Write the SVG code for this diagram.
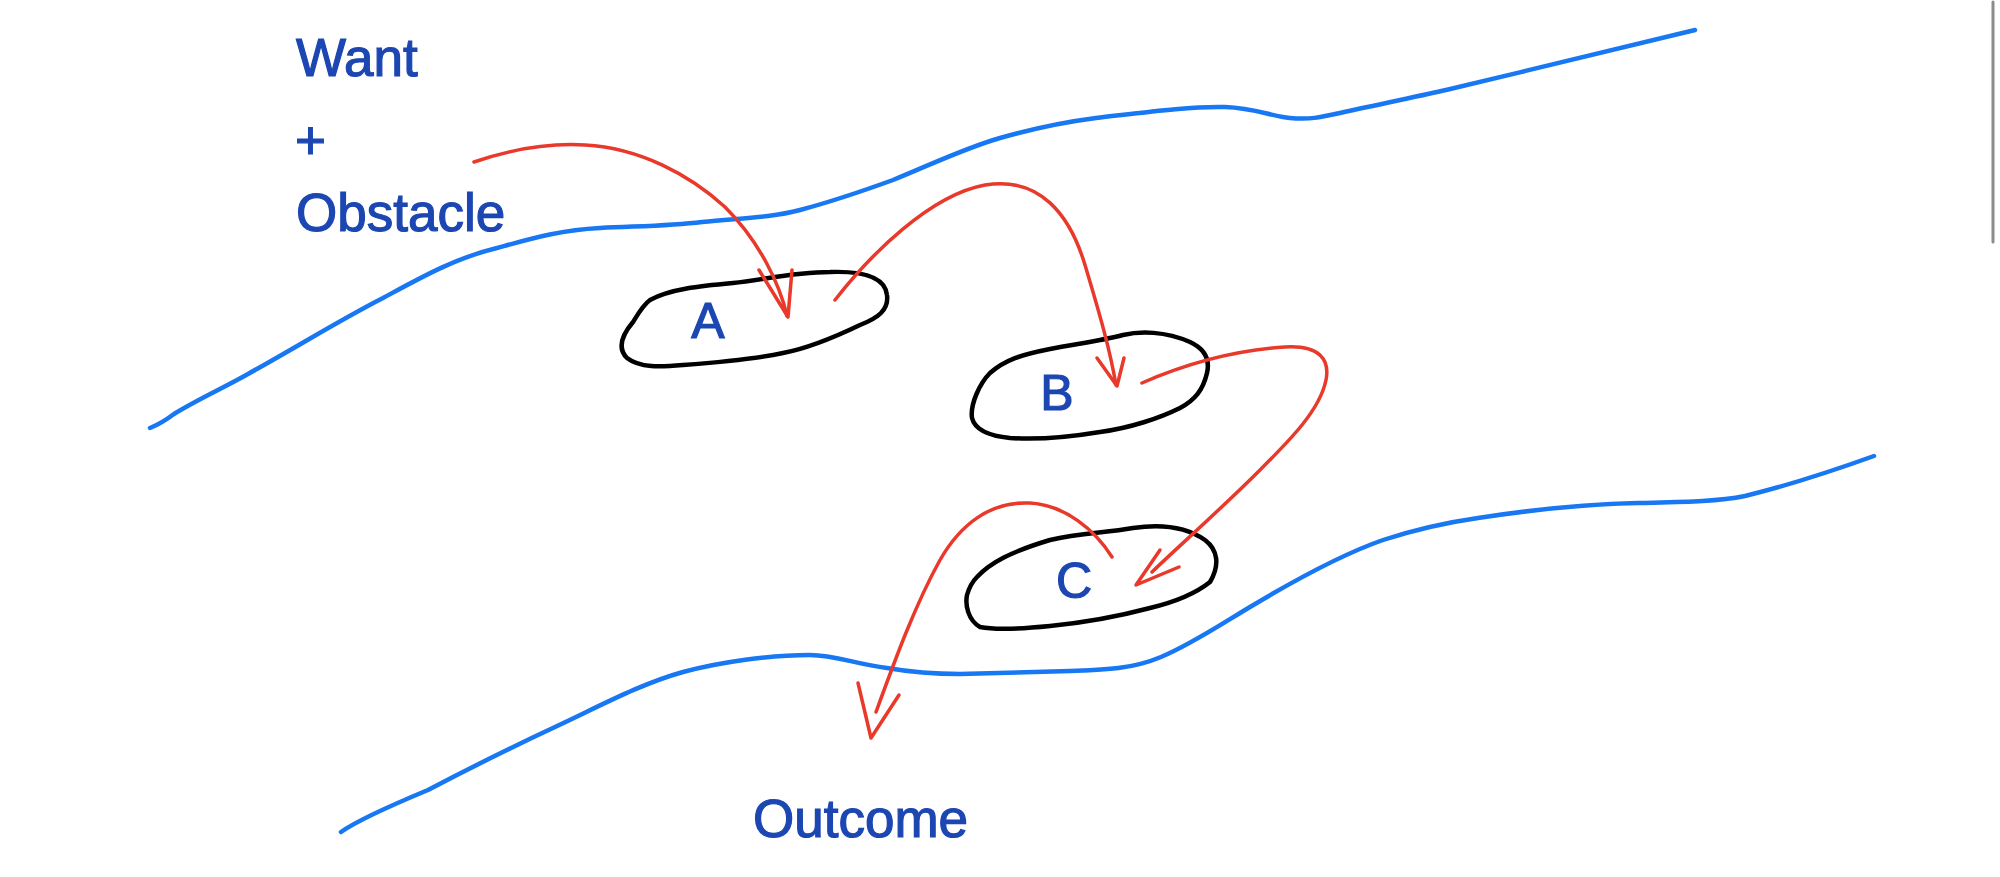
<svg xmlns="http://www.w3.org/2000/svg" width="2000" height="877" viewBox="0 0 2000 877">
<style>
.txt{font-family:"Liberation Sans","Noto Sans",sans-serif;fill:#1c47b2;stroke:#1c47b2;stroke-width:1.2;font-size:53px}
.lbl{font-family:"Liberation Sans","Noto Sans",sans-serif;fill:#1c47b2;stroke:#1c47b2;stroke-width:1.2;font-size:50px;text-anchor:middle}
.blue{fill:none;stroke:#1877f2;stroke-width:4.5;stroke-linecap:round;stroke-linejoin:round}
.blob{fill:none;stroke:#000;stroke-width:4.5;stroke-linecap:round;stroke-linejoin:round}
.red{fill:none;stroke:#e8392b;stroke-width:3.5;stroke-linecap:round;stroke-linejoin:round}
</style>
<rect width="2000" height="877" fill="#fff"/>
<line x1="1993" y1="2" x2="1993" y2="242" stroke="#8c8c8c" stroke-width="3" stroke-linecap="round"/>
<g id="boundaries">
<path class="blue" d="M150,428 C160,424 166,420 174,414 C200,398 230,385 255,370 C300,345 340,320 383,298 C420,278 455,258 497,248 C530,239 560,230 600,228 C640,226 670,226 702,222 C740,218 770,218 800,210 C830,202 860,192 893,180 C930,165 965,148 1000,138 C1035,128 1065,122 1096,118 C1140,113 1190,106 1225,107 C1255,108 1270,116 1290,118 C1310,120 1322,117 1340,113 C1380,104 1420,96 1446,90 C1530,70 1620,48 1695,30"/>
<path class="blue" d="M341,832 C355,822 380,810 428,790 C470,768 510,748 555,727 C600,706 640,684 683,672 C720,662 770,655 810,655 C835,655 855,664 887,668 C910,672 930,674 960,674 C1000,673 1040,672 1070,671 C1100,670 1130,670 1161,657 C1190,645 1220,625 1250,607 C1295,580 1340,555 1383,540 C1420,528 1450,522 1478,518 C1530,510 1590,504 1638,503 C1680,502 1715,502 1745,496 C1790,485 1835,470 1874,456"/>
</g>
<g id="want-text">
<text class="txt" x="296" y="76">Want</text>
<text class="txt" x="295" y="159">+</text>
<text class="txt" x="296" y="231">Obstacle</text>
</g>
<g id="outcome-text">
<text class="txt" x="753" y="837">Outcome</text>
</g>
<g id="node-a">
<path class="blob" d="M650,300 C670,289 700,286 733,283 C760,281 790,272 830,272 C860,271 885,276 887,295 C889,310 878,318 860,325 C835,337 810,348 783,353 C750,360 710,363 683,365 C660,367 640,368 627,358 C617,348 622,335 633,322 C638,314 643,305 650,300 Z"/>
<text class="lbl" x="708" y="338">A</text>
</g>
<g id="node-b">
<path class="blob" d="M990,373 C1005,360 1020,355 1050,349 C1075,344 1100,341 1123,335 C1140,331 1165,331 1190,342 C1205,349 1210,360 1207,373 C1203,390 1195,400 1180,408 C1160,418 1130,428 1100,432 C1070,437 1040,440 1010,438 C990,436 975,430 972,418 C970,404 980,383 990,373 Z"/>
<text class="lbl" x="1057" y="410">B</text>
</g>
<g id="node-c">
<path class="blob" d="M977,577 C990,563 1010,552 1050,540 C1080,533 1105,533 1133,528 C1160,524 1185,526 1205,540 C1218,550 1220,565 1210,582 C1195,594 1175,602 1150,608 C1120,616 1090,622 1050,626 C1020,629 995,630 980,627 C968,620 965,605 967,595 C969,588 972,582 977,577 Z"/>
<text class="lbl" x="1074" y="598">C</text>
</g>
<g id="connectors">
<path class="red" d="M474,162 C515,148 550,143 585,145 C640,148 690,175 725,207 C760,242 780,285 787,316"/>
<path class="red" d="M759,270 L788,317 L792,270"/>
<path class="red" d="M835,300 C870,255 930,195 985,185 C1040,176 1070,215 1085,265 C1100,315 1110,350 1116,385"/>
<path class="red" d="M1097,358 L1117,386 L1124,358"/>
<path class="red" d="M1142,383 C1190,362 1240,350 1285,347 C1320,345 1330,360 1326,380 C1320,410 1290,440 1260,470 C1220,510 1180,545 1152,572"/>
<path class="red" d="M1160,550 L1136,585 L1179,567"/>
<path class="red" d="M1112,557 C1095,530 1065,505 1030,503 C990,501 960,525 940,560 C915,605 895,660 876,712"/>
<path class="red" d="M858,683 L871,738 L899,695"/>
</g>
</svg>
